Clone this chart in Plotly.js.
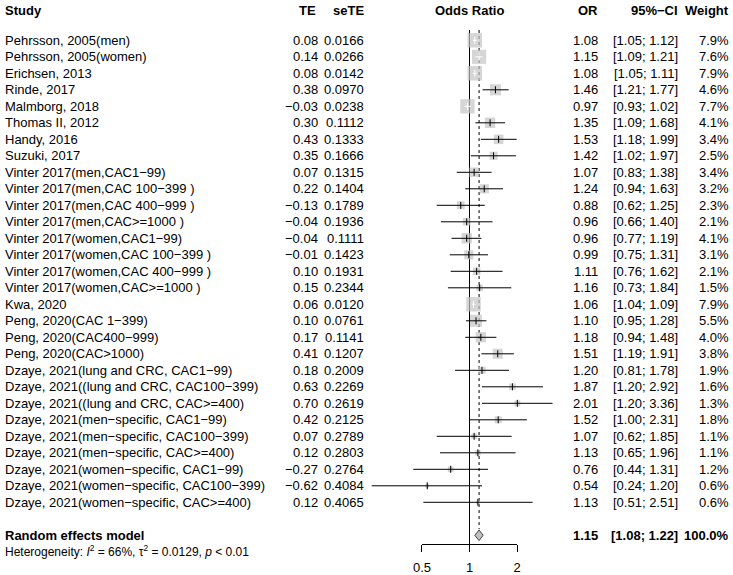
<!DOCTYPE html>
<html>
<head>
<meta charset="utf-8">
<script src="https://cdn.plot.ly/plotly-3.0.1.min.js"></script>
<style>html,body{margin:0;padding:0;background:#fff;}#chart{width:733px;height:575px;}</style>
</head>
<body>
<div id="chart"></div>
<script>
// ---------------- data ----------------
const studies = [
  "Pehrsson, 2005(men)",
  "Pehrsson, 2005(women)",
  "Erichsen, 2013",
  "Rinde, 2017",
  "Malmborg, 2018",
  "Thomas II, 2012",
  "Handy, 2016",
  "Suzuki, 2017",
  "Vinter 2017(men,CAC1\u221299)",
  "Vinter 2017(men,CAC 100\u2212399 )",
  "Vinter 2017(men,CAC 400\u2212999 )",
  "Vinter 2017(men,CAC>=1000 )",
  "Vinter 2017(women,CAC1\u221299)",
  "Vinter 2017(women,CAC 100\u2212399 )",
  "Vinter 2017(women,CAC 400\u2212999 )",
  "Vinter 2017(women,CAC>=1000 )",
  "Kwa, 2020",
  "Peng, 2020(CAC 1\u2212399)",
  "Peng, 2020(CAC400\u2212999)",
  "Peng, 2020(CAC>1000)",
  "Dzaye, 2021(lung and CRC, CAC1\u221299)",
  "Dzaye, 2021((lung and CRC, CAC100\u2212399)",
  "Dzaye, 2021((lung and CRC, CAC>=400)",
  "Dzaye, 2021(men\u2212specific, CAC1\u221299)",
  "Dzaye, 2021(men\u2212specific, CAC100\u2212399)",
  "Dzaye, 2021(men\u2212specific, CAC>=400)",
  "Dzaye, 2021(women\u2212specific, CAC1\u221299)",
  "Dzaye, 2021(women\u2212specific, CAC100\u2212399)",
  "Dzaye, 2021(women\u2212specific, CAC>=400)"
];
const te = [0.08,0.14,0.08,0.38,-0.03,0.30,0.43,0.35,0.07,0.22,-0.13,-0.04,-0.04,-0.01,0.10,0.15,0.06,0.10,0.17,0.41,0.18,0.63,0.70,0.42,0.07,0.12,-0.27,-0.62,0.12];
const seTE = ["0.0166","0.0266","0.0142","0.0970","0.0238","0.1112","0.1333","0.1666","0.1315","0.1404","0.1789","0.1936","0.1111","0.1423","0.1931","0.2344","0.0120","0.0761","0.1141","0.1207","0.2009","0.2269","0.2619","0.2125","0.2789","0.2803","0.2764","0.4084","0.4065"];
const orVals = [1.08,1.15,1.08,1.46,0.97,1.35,1.53,1.42,1.07,1.24,0.88,0.96,0.96,0.99,1.11,1.16,1.06,1.10,1.18,1.51,1.20,1.87,2.01,1.52,1.07,1.13,0.76,0.54,1.13];
const lower = [1.05,1.09,1.05,1.21,0.93,1.09,1.18,1.02,0.83,0.94,0.62,0.66,0.77,0.75,0.76,0.73,1.04,0.95,0.94,1.19,0.81,1.20,1.20,1.00,0.62,0.65,0.44,0.24,0.51];
const upper = [1.12,1.21,1.11,1.77,1.02,1.68,1.99,1.97,1.38,1.63,1.25,1.40,1.19,1.31,1.62,1.84,1.09,1.28,1.48,1.91,1.78,2.92,3.36,2.31,1.85,1.96,1.31,1.20,2.51];
const weight = [7.9,7.6,7.9,4.6,7.7,4.1,3.4,2.5,3.4,3.2,2.3,2.1,4.1,3.1,2.1,1.5,7.9,5.5,4.0,3.8,1.9,1.6,1.3,1.8,1.1,1.1,1.2,0.6,0.6];
const pooled = {label: "Random effects model", or: 1.15, lower: 1.08, upper: 1.22, weight: "100.0%"};
const heterogeneity = "Heterogeneity: <i>I</i><sup>2</sup> = 66%, \u03c4<sup>2</sup> = 0.0129, <i>p</i> &lt; 0.01";
const headers = {study: "Study", te: "TE", se: "seTE", effect: "Odds Ratio", or: "OR", ci: "95%\u2212CI", w: "Weight"};
const xTicks = [0.5, 1, 2];
const xTickText = ["0.5", "1", "2"];

// ---------------- layout constants ----------------
const W = 733, H = 575;
const FONT = "Liberation Sans, Arial, sans-serif";
const FS = 13;
const pxPerLog10 = 157.8;         // forest scale
const centerPx = 469.5;           // pixel of OR = 1
const rowTop = 40.3, rowH = 16.5; // first study row pixel, row height
const axisPx = 544;               // axis line pixel
const rowOfPx = p => 1 + (p - rowTop) / rowH;
const yTop = rowOfPx(0), yBottom = rowOfPx(axisPx);
const xLeftPx = 355, xRightPx = 575;
const maxSq = 14.5, maxW = 7.9;

const rows = studies.map((_, i) => i + 1);
const pooledRow = studies.length + 2;
const headerRow = rowOfPx(10);
const hetPx = 551;

const fmt2 = v => (v < 0 ? "\u2212" : "") + Math.abs(v).toFixed(2);

// squares
const sqSize = weight.map(w => maxSq * Math.sqrt(w / maxW));
const inside = orVals.map((o, i) => {
  const half = sqSize[i] / 2;
  const l = (Math.log10(o) - Math.log10(lower[i])) * pxPerLog10;
  const u = (Math.log10(upper[i]) - Math.log10(o)) * pxPerLog10;
  return l <= half && u <= half;
});

function ciTrace(useInside, color) {
  const x = [], y = [];
  rows.forEach((r, i) => {
    if (inside[i] === useInside) { x.push(lower[i], upper[i], null); y.push(r, r, null); }
  });
  return {type: "scatter", mode: "lines", x, y, xaxis: "x", yaxis: "y",
          line: {color, width: 1}, hoverinfo: "skip"};
}
function tickTrace(useInside, color) {
  const x = [], y = [];
  rows.forEach((r, i) => { if (inside[i] === useInside) { x.push(orVals[i]); y.push(r); } });
  return {type: "scatter", mode: "markers", x, y, xaxis: "x", yaxis: "y",
          marker: {symbol: "line-ns-open", size: 5, color, line: {color, width: 1}}, hoverinfo: "skip"};
}

const diamondHalf = 0.32;
const traces = [
  // reference line at OR = 1
  {type: "scatter", mode: "lines", x: [1, 1], y: [rowOfPx(30), yBottom], xaxis: "x", yaxis: "y",
   line: {color: "#000", width: 1}, hoverinfo: "skip"},
  // pooled estimate dotted line
  {type: "scatter", mode: "lines", x: [pooled.or, pooled.or], y: [rowOfPx(30), pooledRow - diamondHalf - 0.05],
   xaxis: "x", yaxis: "y", line: {color: "#000", width: 1, dash: "dot"}, hoverinfo: "skip"},
  // squares
  {type: "scatter", mode: "markers", x: orVals, y: rows, xaxis: "x", yaxis: "y",
   marker: {symbol: "square", size: sqSize, color: "#c4c4c4", line: {width: 0}}, hoverinfo: "skip"},
  ciTrace(false, "#000"),
  ciTrace(true, "#fff"),
  tickTrace(false, "#000"),
  tickTrace(true, "#fff"),
  // diamond
  {type: "scatter", mode: "lines", fill: "toself", fillcolor: "#c0c0c0",
   x: [pooled.lower, pooled.or, pooled.upper, pooled.or, pooled.lower],
   y: [pooledRow, pooledRow - diamondHalf, pooledRow, pooledRow + diamondHalf, pooledRow],
   xaxis: "x", yaxis: "y", line: {color: "#444", width: 1}, hoverinfo: "skip"},
  // dummy trace for the tick axis
  {type: "scatter", mode: "markers", x: [1], y: [1], xaxis: "x2", yaxis: "y",
   marker: {opacity: 0}, hoverinfo: "skip"}
];

// annotations
const ann = [];
function addText(text, xpx, row, anchor, opts = {}) {
  ann.push(Object.assign({text, x: xpx / W, xref: "paper", y: row, yref: "y",
    xanchor: anchor, yanchor: "middle", showarrow: false,
    font: {family: FONT, size: FS, color: "#000"}}, opts));
}
const bold = t => "<b>" + t + "</b>";
const colStudy = 3, colTE = 320, colSE = 366, colOR = 600, colCI = 680, colW = 731;
addText(bold(headers.study), colStudy, headerRow, "left");
addText(bold(headers.te), 318, headerRow, "right");
addText(bold(headers.se), colSE, headerRow, "right");
addText(bold(headers.effect), centerPx, headerRow, "center");
addText(bold(headers.or), colOR, headerRow, "right");
addText(bold(headers.ci), colCI, headerRow, "right");
addText(bold(headers.w), colW, headerRow, "right");

rows.forEach((r, i) => {
  addText(studies[i], colStudy, r, "left");
  addText(fmt2(te[i]), colTE, r, "right");
  addText(seTE[i], colSE, r, "right");
  addText(orVals[i].toFixed(2), colOR, r, "right");
  addText("[" + lower[i].toFixed(2) + "; " + upper[i].toFixed(2) + "]", colCI, r, "right");
  addText(weight[i].toFixed(1) + "%", colW, r, "right");
});
addText(bold(pooled.label), colStudy, pooledRow, "left");
addText(bold(pooled.or.toFixed(2)), colOR, pooledRow, "right");
addText(bold("[" + pooled.lower.toFixed(2) + "; " + pooled.upper.toFixed(2) + "]"), colCI, pooledRow, "right");
addText(bold(pooled.weight), colW, pooledRow, "right");
ann.push({text: heterogeneity, x: colStudy / W, xref: "paper", y: 1 - hetPx / H, yref: "paper",
  xanchor: "left", yanchor: "middle", showarrow: false,
  font: {family: FONT, size: 12, color: "#000"}});

const l10 = Math.log10;
const layout = {
  width: W, height: H,
  margin: {l: 0, r: 0, t: 0, b: 0, pad: 0},
  paper_bgcolor: "#fff", plot_bgcolor: "rgba(0,0,0,0)",
  showlegend: false, hovermode: false,
  xaxis: {type: "log", domain: [xLeftPx / W, xRightPx / W],
          range: [(xLeftPx - centerPx) / pxPerLog10, (xRightPx - centerPx) / pxPerLog10],
          visible: false, fixedrange: true},
  xaxis2: {type: "log", anchor: "y",
           domain: [(centerPx + l10(xTicks[0]) * pxPerLog10) / W, (centerPx + l10(xTicks[2]) * pxPerLog10) / W],
           range: [l10(xTicks[0]), l10(xTicks[2])],
           tickvals: xTicks, ticktext: xTickText, ticks: "outside", ticklen: 7, tickwidth: 1, tickcolor: "#000",
           showline: true, linecolor: "#000", linewidth: 1, showgrid: false, zeroline: false,
           ticklabelstandoff: 4,
           tickfont: {family: FONT, size: FS, color: "#000"}, fixedrange: true},
  yaxis: {domain: [(H - axisPx) / H, 1], range: [yBottom, yTop], visible: false, fixedrange: true},
  annotations: ann
};

Plotly.newPlot("chart", traces, layout, {staticPlot: true, displayModeBar: false});
</script>
</body>
</html>
